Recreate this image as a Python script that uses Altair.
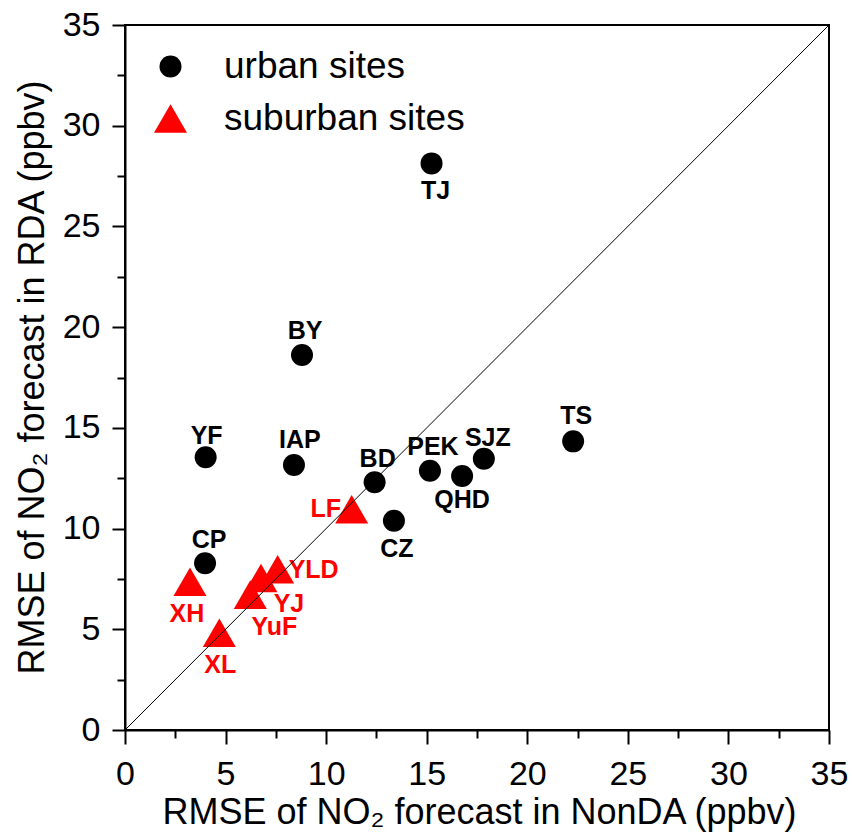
import altair as alt
import pandas as pd

# RMSE of NO2 forecasts (ppbv): NonDA run (x) versus RDA run (y)
urban_sites = ["TJ", "BY", "YF", "IAP", "BD", "PEK", "QHD", "SJZ", "TS", "CZ", "CP"]
urban_nonda = [15.24, 8.80, 4.01, 8.40, 12.41, 15.16, 16.76, 17.84, 22.28, 13.37, 3.98]
urban_rda = [28.13, 18.62, 13.54, 13.16, 12.30, 12.87, 12.61, 13.47, 14.33, 10.39, 8.28]

suburban_sites = ["LF", "XH", "YLD", "YJ", "YuF", "XL"]
suburban_nonda = [11.27, 3.23, 7.59, 6.76, 6.23, 4.69]
suburban_rda = [10.96, 7.36, 7.98, 7.55, 6.72, 4.83]

site_types = ["urban sites", "suburban sites"]
axis_values = [0, 2.5, 5, 7.5, 10, 12.5, 15, 17.5, 20, 22.5, 25, 27.5, 30, 32.5, 35]
axis_range = [0, 35]

df = pd.DataFrame({
    "site": urban_sites + suburban_sites,
    "nonda": urban_nonda + suburban_nonda,
    "rda": urban_rda + suburban_rda,
    "type": [site_types[0]] * len(urban_sites) + [site_types[1]] * len(suburban_sites),
})
one_to_one = pd.DataFrame({"nonda": axis_range, "rda": axis_range})

# label placement around each marker (pixels)
label_nudge = {
    "TJ": (4, 28), "BY": (3, -24), "YF": (1, -21), "IAP": (6, -25), "BD": (3, -23),
    "PEK": (3, -24), "QHD": (0, 24), "SJZ": (4, -21), "TS": (3, -25), "CZ": (3, 28),
    "CP": (4, -23), "LF": (-26, 0), "XH": (-3, 32), "YLD": (36, 1), "YJ": (28, 26),
    "YuF": (24, 32), "XL": (1, 32),
}

FONT = "Liberation Sans"
minor_rule = "datum.value % 5 === 0"

x_axis = alt.Axis(
    values=axis_values,
    labelExpr=f"{minor_rule} ? datum.label : ''",
    tickSize={"condition": {"test": minor_rule, "value": 14}, "value": 8},
    title="RMSE of NO₂ forecast in NonDA (ppbv)",
    titleX=354, titleY=93, titleBaseline="alphabetic", titleAlign="center",
    labelPadding=13, labelFlush=False, labelOverlap=False,
)
y_axis = alt.Axis(
    values=axis_values,
    labelExpr=f"{minor_rule} ? datum.label : ''",
    tickSize={"condition": {"test": minor_rule, "value": 13}, "value": 8},
    title="RMSE of NO₂ forecast in RDA (ppbv)",
    titleX=-82, titleY=352, titleAngle=270, titleBaseline="alphabetic", titleAlign="center",
    labelPadding=12, labelFlush=False, labelOverlap=False,
)

x_enc = alt.X("nonda:Q", scale=alt.Scale(domain=axis_range, nice=False, zero=False), axis=x_axis)
y_enc = alt.Y("rda:Q", scale=alt.Scale(domain=axis_range, nice=False, zero=False), axis=y_axis)

legend = alt.Legend(
    title=None, orient="none", legendX=27, legendY=23,
    labelFontSize=37, labelFont=FONT, labelOffset=35, rowPadding=14, labelLimit=0,
    symbolStrokeWidth=0, padding=0,
)

points = alt.Chart(df).mark_point(filled=True, opacity=1, strokeWidth=0).encode(
    x=x_enc,
    y=y_enc,
    color=alt.Color("type:N", scale=alt.Scale(domain=site_types, range=["#000000", "#ff0000"]), legend=legend),
    shape=alt.Shape("type:N", scale=alt.Scale(domain=site_types, range=["circle", "triangle-up"]), legend=legend),
    size=alt.Size("type:N", scale=alt.Scale(domain=site_types, range=[484, 1090]), legend=legend),
)

labels = []
for name, kind in zip(df["site"], df["type"]):
    dx, dy = label_nudge[name]
    labels.append(
        alt.Chart(df).transform_filter(alt.datum.site == name).mark_text(
            font=FONT, fontSize=25, fontWeight="bold", align="center", baseline="middle",
            dx=dx, dy=dy, color="#000000" if kind == site_types[0] else "#ff0000",
        ).encode(x="nonda:Q", y="rda:Q", text="site:N")
    )

diagonal = alt.Chart(one_to_one).mark_line(color="#000000", strokeWidth=1).encode(
    x="nonda:Q", y="rda:Q"
)

chart = alt.layer(points, *labels, diagonal).properties(
    width=704, height=705,
    autosize=alt.AutoSizeParams(type="none"),
    padding={"left": 125, "top": 25, "right": 23, "bottom": 108},
    background="white",
).configure_view(
    stroke="#000000", strokeWidth=2
).configure_axis(
    grid=False, domainColor="#000000", domainWidth=2, tickColor="#000000", tickWidth=2,
    labelFont=FONT, labelFontSize=34, labelColor="#000000",
    titleFont=FONT, titleFontSize=36, titleFontWeight="normal", titleColor="#000000",
)

chart.save("out.html", embed_options={"renderer": "svg", "actions": False})
